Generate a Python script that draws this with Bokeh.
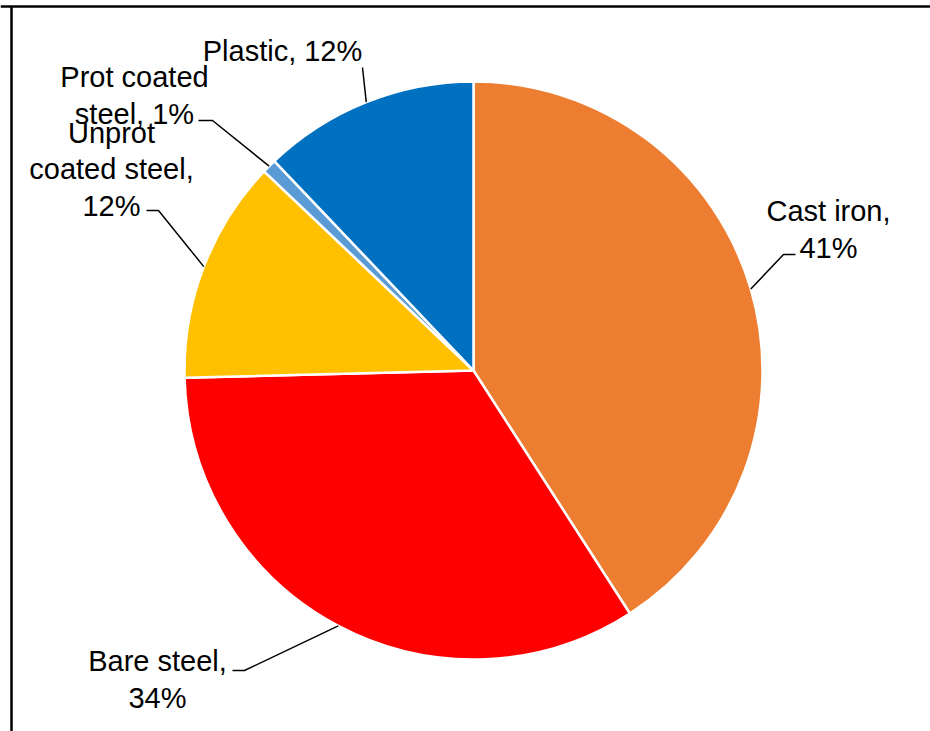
import numpy as np
from bokeh.plotting import figure
from bokeh.models import Range1d, Span
from bokeh.core.properties import value
from bokeh.embed import file_html
from bokeh.resources import INLINE

# ---- data ----
categories = ["Cast iron", "Bare steel", "Unprot coated steel", "Prot coated steel", "Plastic"]
shares = [40.9, 33.7, 12.5, 0.8, 12.1]
label_texts = ["Cast iron,\n41%", "Bare steel,\n34%", "Unprot\ncoated steel,\n12%",
               "Prot coated\nsteel, 1%", "Plastic, 12%"]
colors = ["#ED7D31", "#FF0000", "#FFC000", "#5B9BD5", "#0070C0"]

# ---- layout (screen pixels, y measured from top) ----
W, H = 930, 731
CX, CY, R = 473, 370, 289
label_pos = [(828, 229), (157, 679), (111, 169), (134, 95), (282, 50)]
elbows = [[(795, 254), (783, 254)],
          [(232, 670), (244, 670)],
          [(146, 210), (158, 210)],
          [(198, 120), (212, 120)],
          [(362, 67)]]

def Y(y):
    return H - y

p = figure(width=W, height=H, output_backend="svg", toolbar_location=None,
           x_range=Range1d(0, W), y_range=Range1d(0, H), min_border=0)
p.axis.visible = False
p.grid.visible = False
p.outline_line_color = None
p.background_fill_color = "white"

frac = np.array(shares) / sum(shares)
cum = np.concatenate([[0], np.cumsum(frac)])
# clockwise from 12 o'clock, in math angles
start = np.pi / 2 - 2 * np.pi * cum[:-1]
end = np.pi / 2 - 2 * np.pi * cum[1:]

p.wedge(x=[CX] * len(shares), y=[Y(CY)] * len(shares), radius=R,
        start_angle=start, end_angle=end, direction="clock",
        fill_color=colors, line_color="white", line_width=2.5)

# leader lines
mid = (start + end) / 2
for i in range(len(shares)):
    px = CX + R * np.cos(mid[i])
    py = Y(CY) + R * np.sin(mid[i])
    xs = [e[0] for e in elbows[i]] + [px]
    ys = [Y(e[1]) for e in elbows[i]] + [py]
    p.line(xs, ys, line_color="black", line_width=1.5)

p.text(x=[lp[0] for lp in label_pos], y=[Y(lp[1]) for lp in label_pos], text=label_texts,
       text_align="center", text_baseline="middle", text_font=value("Liberation Sans"),
       text_font_size="29px", text_color="black", text_line_height=1.14)

# frame lines
p.add_layout(Span(location=Y(6), dimension="width", line_color="black", line_width=2.5))
p.line([11, 11], [Y(6), 0], line_color="black", line_width=2.5)

open("out.html", "w").write(file_html(p, INLINE))
